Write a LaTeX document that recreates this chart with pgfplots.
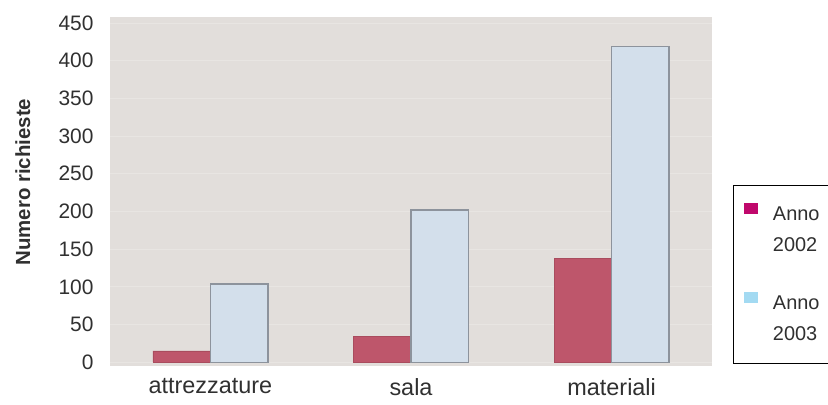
\documentclass[border=0pt]{standalone}
\usepackage{pgfplots}
\pgfplotsset{compat=1.18}
\usepackage{fontspec}
\setmainfont{Liberation Sans}

\definecolor{bggray}{HTML}{E2DEDB}
\definecolor{gridc}{HTML}{E8E5E2}
\definecolor{rosebar}{HTML}{BE566B}
\definecolor{rosedge}{HTML}{A94C5E}
\definecolor{paleblue}{HTML}{D3DFEB}
\definecolor{blueedge}{HTML}{8D939C}
\definecolor{legmag}{HTML}{C0086C}
\definecolor{legcyan}{HTML}{A3DAF2}
\definecolor{txt}{HTML}{303030}

% one legend line: fixed height so that rows are evenly spaced
\newcommand{\legline}[1]{\hspace*{13bp}\rule[-11.5bp]{0pt}{37bp}#1}

\begin{document}
\begin{tikzpicture}
\path[use as bounding box] (-110bp,-39bp) rectangle (718bp,366bp);
\begin{axis}[
  scale only axis,
  width=602bp, height=349bp,
  at={(0,0)}, anchor=south west,
  xmin=-0.5, xmax=2.5,
  ymin=-5, ymax=458,
  xtick={0,1,2},
  xticklabels={attrezzature, sala, materiali},
  ytick={0,50,...,450},
  major tick length=0pt,
  axis line style={draw=none},
  axis background/.style={fill=bggray},
  ymajorgrids,
  grid style={gridc, line width=0.8bp},
  /pgf/number format/assume math mode=true,
  yticklabel style={font=\fontsize{21}{24}\selectfont, text=txt, xshift=-13bp},
  xticklabel style={font=\fontsize{23.5}{26}\selectfont, text=txt, yshift=-11bp, inner ysep=1bp},
  ylabel={\bfseries Numero richieste},
  ylabel style={font=\fontsize{20.5}{24}\selectfont, text=txt,
    at={(axis description cs:-0.145,0.527)}, anchor=center},
  bar width=57.5bp,
  legend style={at={(axis description cs:1.035,0.519)}, anchor=north west,
    draw=black, line width=0.6bp, fill=white,
    font=\fontsize{20}{24}\selectfont, text=txt,
    inner xsep=11bp, inner ysep=8bp, row sep=0bp,
    cells={anchor=west, inner ysep=0bp}},
  legend image code/.code={\fill[#1] (0bp,-5bp) rectangle (13bp,5bp);},
]
\addplot[ybar, bar shift=-28.75bp, fill=rosebar, draw=rosedge, line width=0.6bp, forget plot]
  coordinates {(0,15) (1,34) (2,138)};
\addplot[ybar, bar shift=28.75bp, fill=paleblue, draw=blueedge, line width=1.4bp, forget plot]
  coordinates {(0,104) (1,202) (2,419)};
\addlegendimage{legmag}
\addlegendentry{\legline{Anno}}
\addlegendimage{empty legend}
\addlegendentry{\legline{2002}}
\addlegendimage{empty legend}
\addlegendentry{\rule{0pt}{21bp}}
\addlegendimage{legcyan}
\addlegendentry{\legline{Anno}}
\addlegendimage{empty legend}
\addlegendentry{\legline{2003}}
\addlegendimage{empty legend}
\addlegendentry{\rule{0pt}{6bp}}
\end{axis}
\end{tikzpicture}
\end{document}
